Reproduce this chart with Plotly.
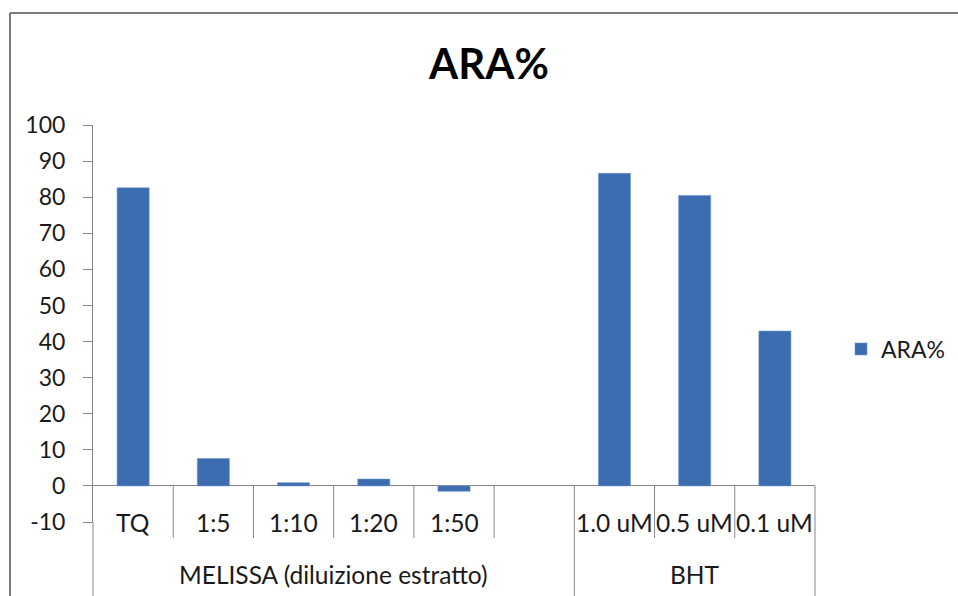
import plotly.graph_objects as go

# ---- data ----
groups = ["MELISSA (diluizione estratto)"] * 6 + ["BHT"] * 3
categories = ["TQ", "1:5", "1:10", "1:20", "1:50", " ", "1.0 uM", "0.5 uM", "0.1 uM"]
values = [82.6, 7.6, 0.9, 1.9, -1.5, None, 86.6, 80.5, 42.9]
series_name = "ARA%"
y_ticks = [-10, 0, 10, 20, 30, 40, 50, 60, 70, 80, 90, 100]
y_tick_labels = [str(v) for v in y_ticks]

# ---- style ----
W, H = 958, 596
L, R, T, B = 93, 815, 125, 522
PW, PH = R - L, B - T
YMIN, YMAX = -10, 100
FONT = "Lato"
AXC = "#868686"
BAR = "#3d6db1"
TXT = "#1a1a1a"
CAT_SIZE = 24.5

def px_to_paper_y(py):
    return (B - py) / PH

def px_to_paper_x(px):
    return (px - L) / PW

n = len(categories)
zero_paper = (0 - YMIN) / (YMAX - YMIN)

fig = go.Figure()
fig.add_trace(go.Bar(
    x=categories, y=values, name=series_name,
    marker=dict(color=BAR, line=dict(color="#6f96cf", width=0.6)),
    width=0.4,
))

shapes = []
annotations = []

# boundaries between categories (short) and between groups (long)
for b in range(1, n + 1):
    xp = b / n
    is_group_edge = (b == n) or (groups[b] != groups[b - 1])
    y1 = px_to_paper_y(600) if is_group_edge else px_to_paper_y(538)
    shapes.append(dict(type="line", xref="paper", yref="paper",
                       x0=xp, x1=xp, y0=zero_paper, y1=y1,
                       line=dict(color=AXC, width=1)))

# y-axis line extension below plot area
shapes.append(dict(type="line", xref="paper", yref="paper",
                   x0=0, x1=0, y0=0, y1=px_to_paper_y(600),
                   line=dict(color=AXC, width=1)))

# chart border (top and left)
shapes.append(dict(type="line", xref="paper", yref="paper",
                   x0=px_to_paper_x(10), x1=px_to_paper_x(960),
                   y0=px_to_paper_y(13), y1=px_to_paper_y(13),
                   line=dict(color="#7a7a7a", width=2)))
shapes.append(dict(type="line", xref="paper", yref="paper",
                   x0=px_to_paper_x(10), x1=px_to_paper_x(10),
                   y0=px_to_paper_y(13), y1=px_to_paper_y(600),
                   line=dict(color="#7a7a7a", width=2)))

# category labels
for i, c in enumerate(categories):
    if c.strip():
        annotations.append(dict(x=i, y=px_to_paper_y(522), xref="x", yref="paper",
                                text=c, showarrow=False, yanchor="middle",
                                font=dict(family=FONT, size=CAT_SIZE, color=TXT)))

# group labels
seen = []
for g in groups:
    if g not in seen:
        seen.append(g)
for g in seen:
    idx = [i for i, gg in enumerate(groups) if gg == g]
    xc = (idx[0] + idx[-1]) / 2
    annotations.append(dict(x=xc, y=px_to_paper_y(574), xref="x", yref="paper",
                            text=g, showarrow=False, yanchor="middle",
                            font=dict(family=FONT, size=CAT_SIZE, color=TXT)))

fig.update_layout(
    width=W, height=H,
    margin=dict(l=L, r=W - R, t=T, b=H - B, pad=0, autoexpand=False),
    paper_bgcolor="white", plot_bgcolor="white",
    title=dict(text="<b>ARA%</b>", x=489 / W, xref="container", xanchor="center",
               y=1 - 64 / H, yref="container", yanchor="middle",
               font=dict(family=FONT, size=42, color="black")),
    xaxis=dict(type="category", categoryorder="array", categoryarray=categories,
               range=[-0.5, n - 0.5], showticklabels=False, ticks="",
               showline=False, showgrid=False, zeroline=False, fixedrange=True),
    yaxis=dict(range=[YMIN, YMAX], tickvals=y_ticks, ticktext=y_tick_labels,
               ticks="outside", ticklen=9,
               tickcolor=AXC, tickwidth=1, showline=True, linecolor=AXC, linewidth=1,
               showgrid=False, zeroline=True, zerolinecolor=AXC, zerolinewidth=1,
               ticklabelstandoff=13,
               tickfont=dict(family=FONT, size=23, color=TXT)),
    showlegend=True,
    legend=dict(x=px_to_paper_x(841), xanchor="left", y=px_to_paper_y(349), yanchor="middle",
                font=dict(family=FONT, size=23, color=TXT),
                bgcolor="rgba(0,0,0,0)"),
    shapes=shapes,
    annotations=annotations,
    bargap=0.6,
)

fig.write_html("out.html", config={"displayModeBar": False},
               post_script="document.body.style.margin='0';document.body.style.overflow='hidden';")
